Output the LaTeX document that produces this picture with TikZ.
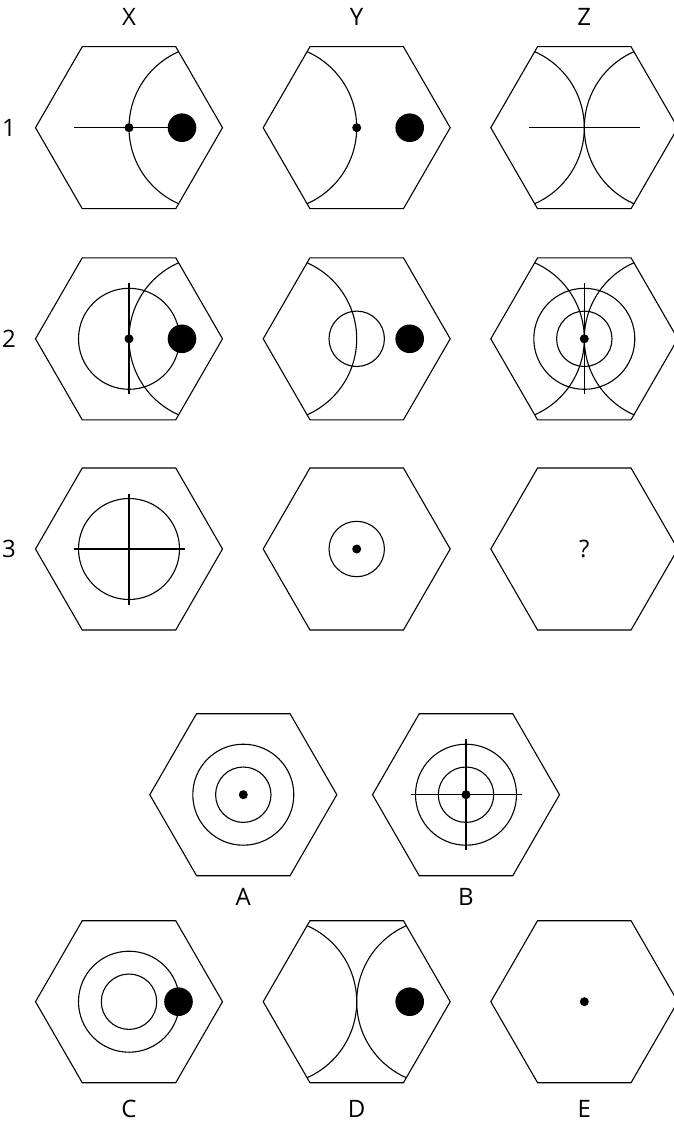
\documentclass[tikz,border=0pt]{standalone}
\usepackage{fontspec}
\setmainfont{Open Sans}
\begin{document}
\begin{tikzpicture}[x=1pt,y=-1pt,
  ln/.style={line width=1.1pt,black},
  lbl/.style={font=\fontsize{24}{26}\selectfont,inner sep=0pt},
]
\useasboundingbox (0,0) rectangle (673,1123);
\newcommand\hexpath{(-93.5,0) -- (-46.75,-81) -- (46.75,-81) -- (93.5,0) -- (46.75,81) -- (-46.75,81) -- cycle}
\newcommand\hexa{\draw[ln,line join=miter] \hexpath;}
\newcommand\rarc{\begin{scope}\clip \hexpath; \draw[ln] (83,0) circle[radius=83pt];\end{scope}}
\newcommand\larc{\begin{scope}\clip \hexpath; \draw[ln] (-83,0) circle[radius=83pt];\end{scope}}
\newcommand\smalldot{\fill (0,0) circle[radius=4.5pt];}
\newcommand\bigdot[1]{\fill (#1,0) circle[radius=14.3pt];}
\newcommand\bigc{\draw[ln] (0,0) circle[radius=50.5pt];}
\newcommand\smallc{\draw[ln] (0,0) circle[radius=27.7pt];}
\newcommand\myvl{\draw[ln] (0,-55.5) -- (0,55.5);}
\newcommand\myhl{\draw[ln] (-55.5,0) -- (55.5,0);}

% column and row labels
\node[lbl] (lx) at (129,17) {X};
\node[lbl] (ly) at (356.7,17) {Y};
\node[lbl] (lz) at (584.3,17) {Z};
\node[lbl] (l1) at (9,127.7) {1};
\node[lbl] (l2) at (9,338.8) {2};
\node[lbl] (l3) at (9,549) {3};

% row 1
\begin{scope}[shift={(129,127.7)}]
  \hexa \rarc
  \draw[ln] (-55.5,0) -- (53,0);
  \smalldot \bigdot{53}
\end{scope}
\begin{scope}[shift={(356.7,127.7)}]
  \hexa \larc
  \smalldot \bigdot{53}
\end{scope}
\begin{scope}[shift={(584.3,127.7)}]
  \hexa \larc \rarc \myhl
\end{scope}

% row 2
\begin{scope}[shift={(129,338.8)}]
  \hexa \bigc \myvl \rarc
  \smalldot \bigdot{53}
\end{scope}
\begin{scope}[shift={(356.7,338.8)}]
  \hexa \larc \smallc
  \bigdot{53}
\end{scope}
\begin{scope}[shift={(584.3,338.8)}]
  \hexa \larc \rarc \bigc \smallc \myvl
  \smalldot
\end{scope}

% row 3
\begin{scope}[shift={(129,549)}]
  \hexa \bigc \myvl \myhl
\end{scope}
\begin{scope}[shift={(356.7,549)}]
  \hexa \smallc \smalldot
\end{scope}
\begin{scope}[shift={(584.3,549)}]
  \hexa
  \node[lbl] (q) at (0,0) {?};
\end{scope}

% answers A, B
\begin{scope}[shift={(243.3,794.7)}]
  \hexa \bigc \smallc \smalldot
  \node[lbl] (la) at (0,102.5) {A};
\end{scope}
\begin{scope}[shift={(466,794.7)}]
  \hexa \bigc \smallc \myvl \myhl \smalldot
  \node[lbl] (lb) at (0,102.5) {B};
\end{scope}

% answers C, D, E
\begin{scope}[shift={(129,1001.7)}]
  \hexa \bigc \smallc \bigdot{49.5}
  \node[lbl] (lc) at (0,107.5) {C};
\end{scope}
\begin{scope}[shift={(356.7,1001.7)}]
  \hexa \larc \rarc \bigdot{53}
  \node[lbl] (ld) at (0,107.5) {D};
\end{scope}
\begin{scope}[shift={(584.3,1001.7)}]
  \hexa \smalldot
  \node[lbl] (le) at (0,107.5) {E};
\end{scope}
\end{tikzpicture}
\end{document}
